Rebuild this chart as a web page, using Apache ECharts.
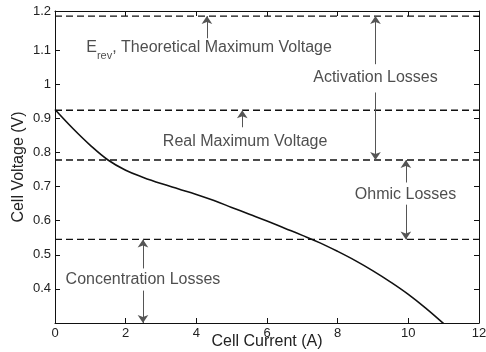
<!DOCTYPE html>
<html><head><meta charset="utf-8">
<script src="https://cdn.jsdelivr.net/npm/echarts/dist/echarts.min.js"></script>
<style>html,body{margin:0;padding:0;background:#fff}#c{width:486px;height:352px}</style>
</head><body><div id="c"></div>
<script>
// Polarization curve
const currentA = [0, 0.5, 1, 1.5, 2, 2.5, 3, 3.5, 4, 4.5, 5, 5.5, 6, 6.5, 7, 7.5, 8, 8.5, 9, 9.5, 10, 10.5, 11];
const voltageV = [0.926, 0.871, 0.821, 0.778, 0.748, 0.727, 0.709, 0.693, 0.677, 0.659, 0.639, 0.619, 0.599, 0.578, 0.557, 0.535, 0.510, 0.483, 0.453, 0.420, 0.384, 0.343, 0.298];

// Dashed reference levels (V)
const levelValues = [1.2, 0.924, 0.778, 0.545];

// Axis ticks
const xTickLabels = ['0', '2', '4', '6', '8', '10', '12'];
const yTickLabels = ['0.4', '0.5', '0.6', '0.7', '0.8', '0.9', '1', '1.1', '1.2'];

// Annotations: text and anchor in data coordinates
const annotationTexts = ['{n|E}{s|rev}{n|, Theoretical Maximum Voltage}', 'Activation Losses', 'Real Maximum Voltage', 'Ohmic Losses', 'Concentration Losses'];
const annotationX = [4.36, 9.07, 5.38, 9.92, 2.49];
const annotationY = [1.106, 1.021, 0.833, 0.676, 0.426];

// Arrow segments (head at "to")
const arrowX    = [4.3, 9.07, 9.07, 5.3, 9.93, 9.93, 2.49, 2.49];
const arrowFrom = [1.135, 1.059, 0.976, 0.874, 0.712, 0.647, 0.46, 0.395];
const arrowTo   = [1.2, 1.2, 0.778, 0.924, 0.778, 0.545, 0.545, 0.3];

const FONT = 'Liberation Sans, Arial, sans-serif';
const TXT = '#222';

const chart = echarts.init(document.getElementById('c'), null, {renderer: 'canvas'});

const levelSeries = levelValues.map(v => ({
  type: 'line', silent: true, showSymbol: false, symbol: 'none',
  data: [[0, v], [12, v]],
  lineStyle: {color: '#111', width: 1.3, type: [7, 4]},
  z: 2
}));

const arrowLines = arrowX.map((x, i) => [
  {coord: [x, arrowFrom[i]]},
  {coord: [x, arrowTo[i]]}
]);

chart.setOption({
  animation: false,
  backgroundColor: '#fff',
  grid: {left: 55, right: 7, top: 11, bottom: 29, containLabel: false, outerBoundsMode: 'none'},
  xAxis: [{
    type: 'value', min: 0, max: 12, interval: 2, position: 'bottom',
    name: 'Cell Current (A)', nameLocation: 'middle', nameGap: 11, nameMoveOverlap: false,
    nameTextStyle: {fontFamily: FONT, fontSize: 16, color: TXT},
    axisLine: {onZero: false, lineStyle: {color: '#111', width: 1}},
    axisTick: {inside: true, length: 5, lineStyle: {color: '#111'}},
    axisLabel: {fontFamily: FONT, fontSize: 13, color: TXT, margin: 4,
      formatter: v => { const s = String(Math.round(v)); return xTickLabels.indexOf(s) >= 0 ? s : ''; }},
    splitLine: {show: false}
  }, {
    type: 'value', min: 0, max: 12, interval: 2, position: 'top',
    axisLine: {onZero: false, lineStyle: {color: '#111', width: 1}},
    axisTick: {inside: true, length: 5, lineStyle: {color: '#111'}},
    axisLabel: {show: false}, splitLine: {show: false}
  }],
  yAxis: [{
    type: 'value', min: 0.3, max: 1.215, interval: 0.1, position: 'left',
    name: 'Cell Voltage (V)', nameLocation: 'middle', nameGap: 28, nameRotate: 90, nameMoveOverlap: false,
    nameTextStyle: {fontFamily: FONT, fontSize: 16, color: TXT},
    axisLine: {onZero: false, lineStyle: {color: '#111', width: 1}},
    axisTick: {inside: true, length: 5, lineStyle: {color: '#111'}},
    axisLabel: {fontFamily: FONT, fontSize: 13, color: TXT, margin: 4,
      showMinLabel: false, showMaxLabel: true,
      formatter: v => { const s = String(Math.round(v * 10) / 10); return yTickLabels.indexOf(s) >= 0 ? s : ''; }},
    splitLine: {show: false}
  }, {
    type: 'value', min: 0.3, max: 1.215, interval: 0.1, position: 'right',
    axisLine: {onZero: false, lineStyle: {color: '#111', width: 1}},
    axisTick: {inside: true, length: 5, lineStyle: {color: '#111'}},
    axisLabel: {show: false}, splitLine: {show: false}
  }],
  series: [
    ...levelSeries,
    {
      type: 'line', name: 'curve', smooth: 0.4, showSymbol: false, symbol: 'none',
      data: currentA.map((x, i) => [x, voltageV[i]]),
      lineStyle: {color: '#111', width: 1.6},
      z: 3,
      markLine: {
        silent: true, animation: false,
        symbol: ['none', 'arrow'], symbolSize: 8,
        label: {show: false},
        lineStyle: {color: '#555', width: 1, type: 'solid'},
        emphasis: {disabled: true},
        data: arrowLines
      }
    },
    {
      type: 'scatter', silent: true, symbolSize: 1,
      itemStyle: {color: 'rgba(0,0,0,0)'},
      data: annotationX.map((x, i) => ({value: [x, annotationY[i]], label: {formatter: annotationTexts[i]}})),
      label: {
        show: true, position: 'inside', fontFamily: FONT, fontSize: 16, color: TXT,
        rich: {
          n: {fontFamily: FONT, fontSize: 16, color: TXT, verticalAlign: 'top', lineHeight: 18},
          s: {fontFamily: FONT, fontSize: 11, color: TXT, verticalAlign: 'top', lineHeight: 12, padding: [11, 0, 0, 0]}
        }
      },
      z: 5
    }
  ]
});
</script>
</body></html>
